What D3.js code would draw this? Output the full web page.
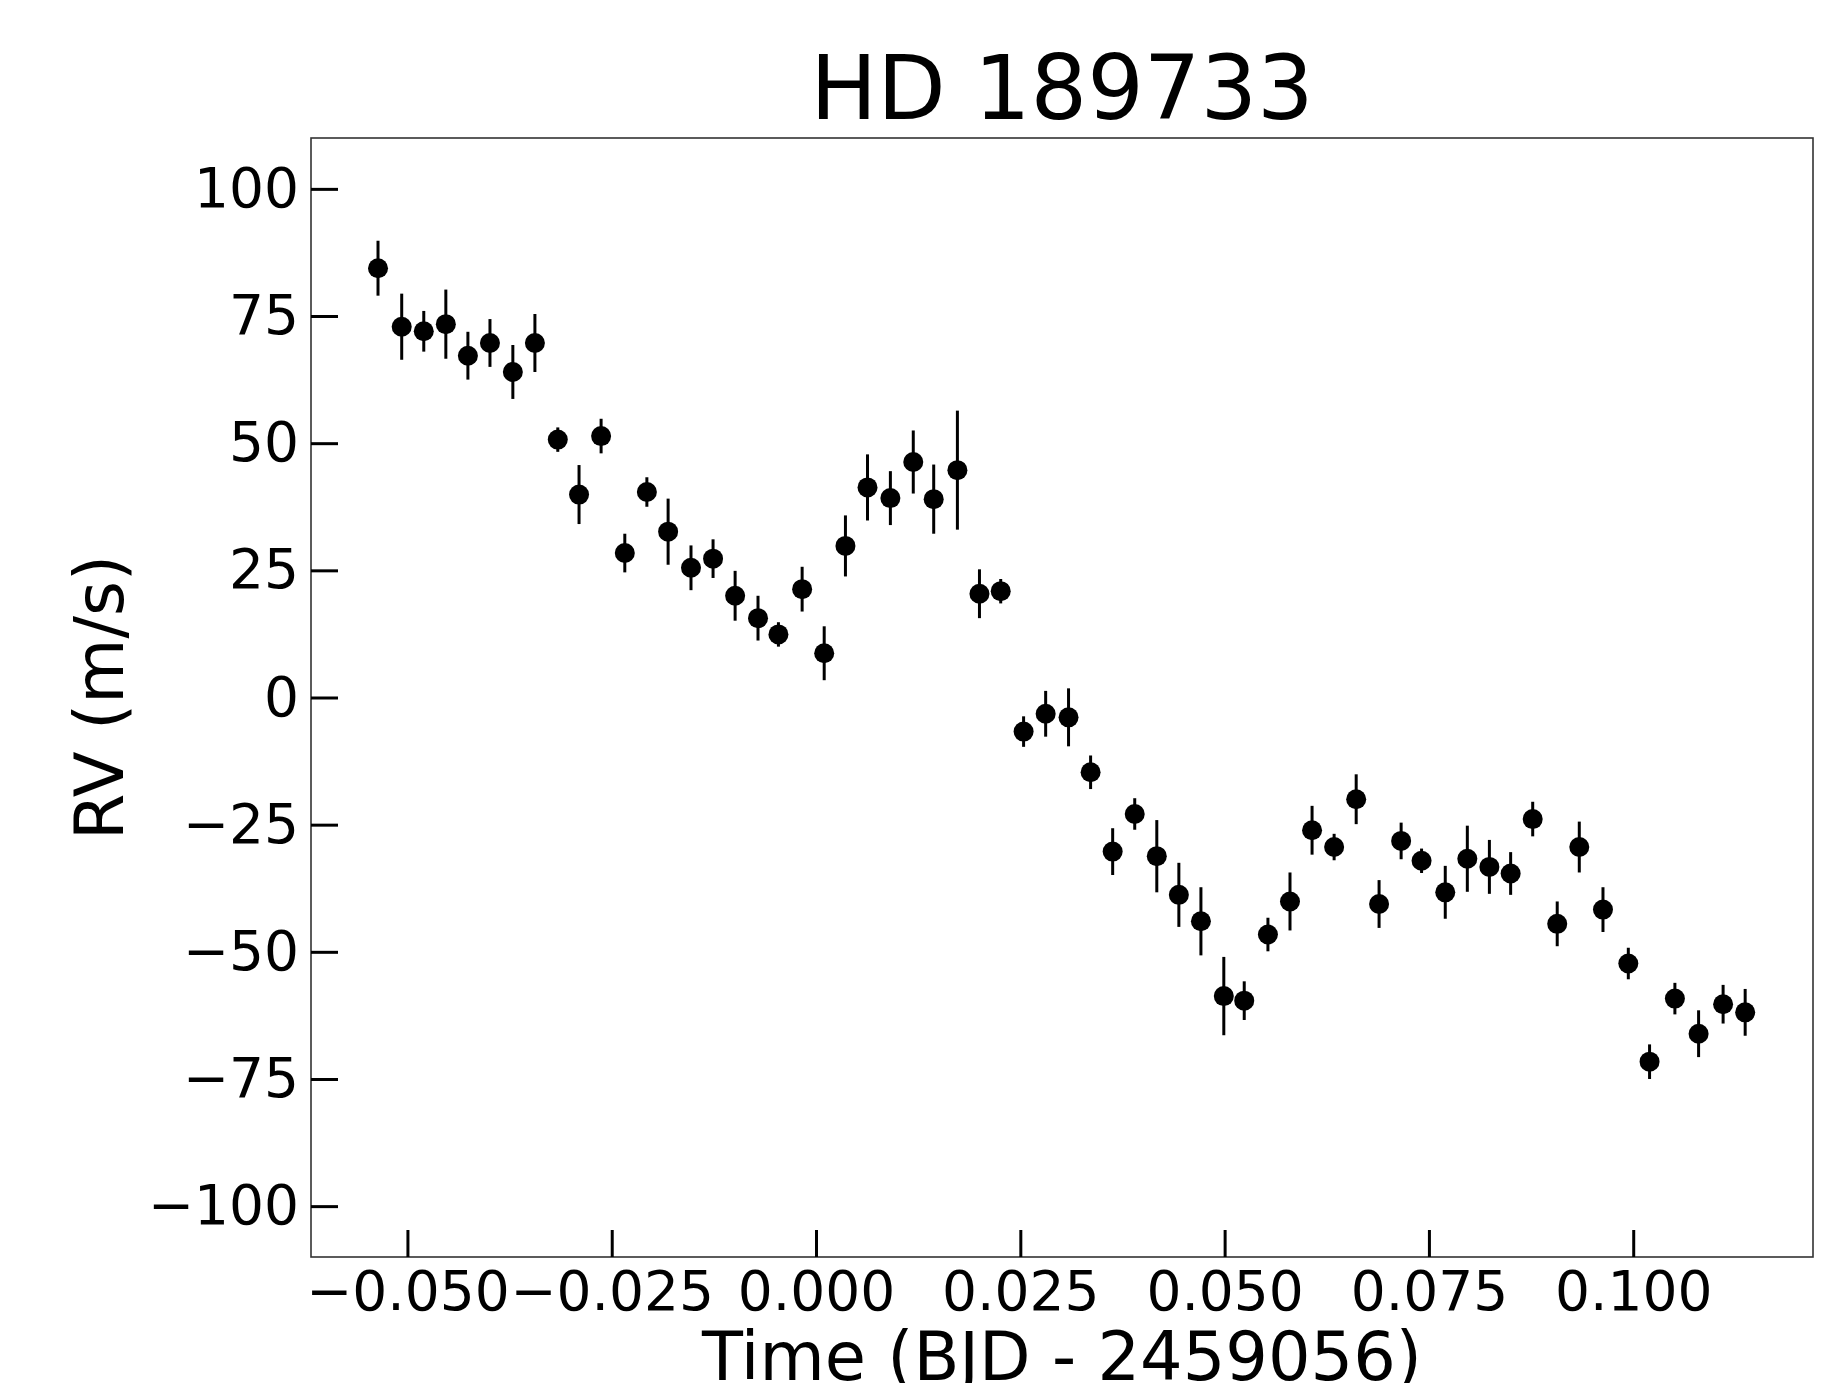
<!DOCTYPE html>
<html>
<head>
<meta charset="utf-8">
<script src="https://cdn.jsdelivr.net/npm/d3@7"></script>
<style>
  body { margin: 0; background: #fff; }
  svg { display: block; font-family: "DejaVu Sans", sans-serif; }
</style>
</head>
<body>
<svg id="canvas" width="1830" height="1383"></svg>
<script>
// time offsets (BJD - 2459056), RV (m/s) and 1-sigma errors
let times = [-0.0536, -0.0507, -0.0480, -0.0453, -0.0426, -0.0399, -0.0371, -0.0344, -0.0316, -0.0290,
  -0.0263, -0.0234, -0.0207, -0.0181, -0.0153, -0.0126, -0.0099, -0.0071, -0.0046, -0.0017,
  0.0010, 0.0036, 0.0063, 0.0091, 0.0119, 0.0144, 0.0173, 0.0200, 0.0226, 0.0254,
  0.0281, 0.0309, 0.0336, 0.0363, 0.0390, 0.0417, 0.0444, 0.0471, 0.0499, 0.0524,
  0.0553, 0.0580, 0.0607, 0.0634, 0.0661, 0.0689, 0.0716, 0.0741, 0.0770, 0.0797,
  0.0824, 0.0850, 0.0877, 0.0907, 0.0934, 0.0963, 0.0994, 0.1020, 0.1051, 0.1080,
  0.1110, 0.1137]
let rv = [84.4, 72.9, 72.0, 73.4, 67.2, 69.7, 64.0, 69.7, 50.7, 39.9,
  51.4, 28.4, 40.4, 32.6, 25.5, 27.3, 20.0, 15.6, 12.4, 21.3,
  8.7, 29.8, 41.3, 39.2, 46.3, 39.0, 44.7, 20.4, 20.9, -6.7,
  -3.2, -3.9, -14.7, -30.3, -22.9, -31.2, -38.8, -44.0, -58.7, -59.6,
  -46.6, -40.1, -26.1, -29.4, -20.0, -40.6, -28.2, -32.1, -38.3, -31.7,
  -33.3, -34.6, -23.9, -44.5, -29.4, -41.7, -52.3, -71.6, -59.2, -66.1,
  -60.3, -61.9]
let rvErr = [5.4, 6.5, 4.0, 6.8, 4.7, 4.7, 5.3, 5.7, 2.4, 5.8,
  3.4, 3.8, 2.9, 6.5, 4.4, 3.8, 4.9, 4.4, 2.4, 4.4,
  5.3, 6.0, 6.5, 5.3, 6.2, 6.8, 11.7, 4.8, 2.4, 3.0,
  4.5, 5.7, 3.3, 4.6, 3.1, 7.1, 6.3, 6.7, 7.7, 3.8,
  3.3, 5.7, 4.8, 2.6, 4.9, 4.7, 3.6, 2.4, 5.2, 6.5,
  5.3, 4.2, 3.4, 4.4, 5.0, 4.4, 3.1, 3.4, 3.1, 4.6,
  3.8, 4.6]

let xTicks = [-0.05, -0.025, 0, 0.025, 0.05, 0.075, 0.1]
let yTicks = [-100, -75, -50, -25, 0, 25, 50, 75, 100]

let title = "HD 189733"
let xLabel = "Time (BJD - 2459056)"
let yLabel = "RV (m/s)"

let margin = {left: 311, right: 1813, top: 138, bottom: 1257}

let canvas = d3.select("#canvas")

let xScale = d3.scaleLinear().domain([-0.0618, 0.122]).range([margin.left, margin.right])
let yScale = d3.scaleLinear().domain([-110, 110]).range([margin.bottom, margin.top])

let points = times.map((t, i) => ({t: t, rv: rv[i], err: rvErr[i]}))

// frame
canvas.append("rect")
    .attr("x", margin.left)
    .attr("y", margin.top)
    .attr("width", margin.right - margin.left)
    .attr("height", margin.bottom - margin.top)
    .attr("fill", "none")
    .attr("stroke", "#333")
    .attr("stroke-width", 1.6)

let xAxis = d3.axisBottom(xScale)
    .tickValues(xTicks)
    .tickFormat(d3.format(".3f"))
    .tickSizeInner(-27)
    .tickSizeOuter(0)
    .tickPadding(14)

let yAxis = d3.axisLeft(yScale)
    .tickValues(yTicks)
    .tickFormat(d3.format("d"))
    .tickSizeInner(-27)
    .tickSizeOuter(0)
    .tickPadding(12)

let gx = canvas.append("g")
    .attr("transform", "translate(0," + margin.bottom + ")")
    .call(xAxis)
let gy = canvas.append("g")
    .attr("transform", "translate(" + margin.left + ",0)")
    .call(yAxis)

for (let g of [gx, gy]) {
    g.select(".domain").remove()
    g.selectAll(".tick line").attr("stroke", "#000").attr("stroke-width", 3)
    g.selectAll(".tick text")
        .attr("fill", "#000")
        .style("font-family", "DejaVu Sans")
        .style("font-size", "55px")
}

// error bars
canvas.append("g")
    .selectAll("line")
    .data(points)
    .enter()
    .append("line")
    .attr("x1", (d) => xScale(d.t))
    .attr("x2", (d) => xScale(d.t))
    .attr("y1", (d) => yScale(d.rv - d.err))
    .attr("y2", (d) => yScale(d.rv + d.err))
    .attr("stroke", "#000")
    .attr("stroke-width", 3)

// markers
canvas.append("g")
    .selectAll("circle")
    .data(points)
    .enter()
    .append("circle")
    .attr("cx", (d) => xScale(d.t))
    .attr("cy", (d) => yScale(d.rv))
    .attr("r", 10)
    .attr("fill", "#000")

// texts
canvas.append("text")
    .attr("x", (margin.left + margin.right) / 2)
    .attr("y", 119)
    .attr("text-anchor", "middle")
    .style("font-size", "89px")
    .text(title)

canvas.append("text")
    .attr("x", (margin.left + margin.right) / 2)
    .attr("y", 1380)
    .attr("text-anchor", "middle")
    .style("font-size", "67px")
    .text(xLabel)

canvas.append("text")
    .attr("transform", "translate(123," + (margin.top + margin.bottom) / 2 + ") rotate(-90)")
    .attr("text-anchor", "middle")
    .style("font-size", "67px")
    .text(yLabel)
</script>
</body>
</html>
